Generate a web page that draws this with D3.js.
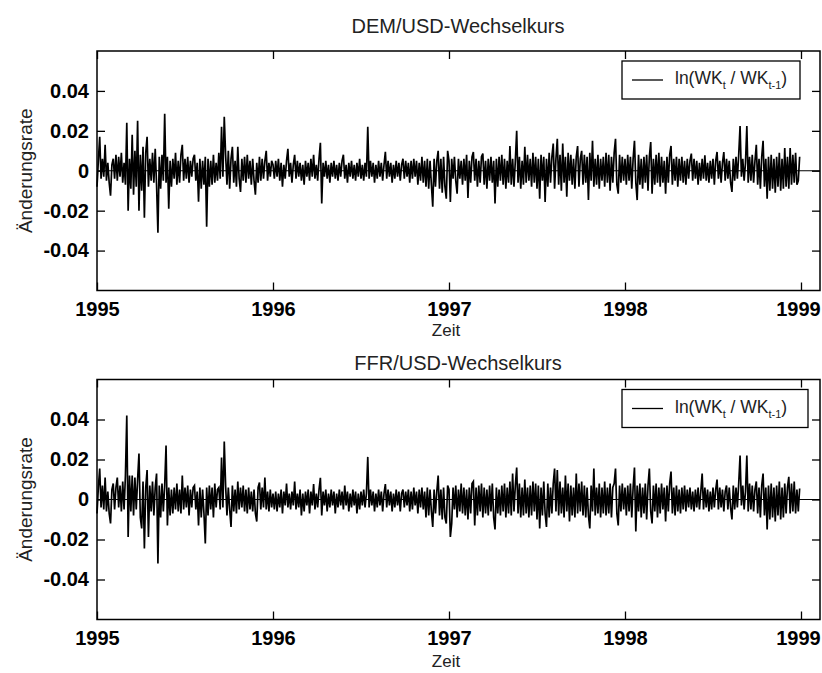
<!DOCTYPE html>
<html>
<head>
<meta charset="utf-8">
<script src="https://cdn.jsdelivr.net/npm/d3@7"></script>
<style>
  body { margin: 0; background: #fff; }
  svg { display: block; font-family: "Liberation Sans", Arial, sans-serif; }
</style>
</head>
<body>
<svg id="chart" width="822" height="673"></svg>
<script>
// daily changes ln(WK_t / WK_t-1), in units of 0.001
// (about 130 values per calendar year)
var dem1995 = [
  -8, 5, 17, -4, 6, -3, 13, -5, 4, -6,
  -12.5, 3, 6, -4, 8, -5, 7, -3, 9, -6,
  4, -7, 24, -20, 6, -9, 18, -12, 10, -8,
  25, -20, 8, -10, 12, -23.5, 9, 17, -8, 6,
  -5, 9, -6, 11, -7, -31, 7, -9, 8, -5,
  28.5, -6, 7, -19, 5, -8, 6, -4, 9, -7,
  5, -6, 8, 13, -5, 6, -4, 7, -6, 5,
  -3, 6, 8, -5, 4, -15.5, 6, -9, 5, -7,
  7, -28, 6, -8, 5, -7, 8, -6, 4, -5,
  9, -4, 22, -3, 27, 8, -7, 10, -9, 6,
  12, -6, 5, -8, 12, -4, -10.6, 6, -5, 7,
  -6, 8, -4, 5, -7, 6, -5, -12, 4, -6,
  7, -5, 6, -4, 5, 10, -5, 4, -3, 5
];
var dem1996 = [
  3, -4, 5, -3, 6, -5, 4, -8, 3, -4,
  5, 11, -3, 4, -6, 3, 8, -4, 5, -3,
  4, -5, 3, -7, 5, -3, 4, -5, 6, -3,
  8, -4, 3, -5, 6, 14, -16.4, 4, -3, 5,
  -4, 3, -6, 4, -3, 5, -4, 3, -5, 4,
  -3, 5, 8, -4, 3, -6, 4, -3, 5, -4,
  3, -5, 4, -3, 6, -4, 3, -5, 4, -3,
  22, -4, 5, -3, 4, -6, 3, -4, 5, -3,
  4, -5, 3, 9.5, -4, 5, -3, 4, -6, 3,
  -4, 5, -3, 4, -5, 3, 6, -4, 5, -3,
  4, -6, 5, -4, 6, -3, 5, -7, 4, -5,
  7, -6, 5, -8, 6, -9, 5, -7, -18, 6,
  -8, 5, 10, -9, 6, -11, 7, -8, -14, 10
];
var dem1997 = [
  5, -15.6, 6, -4, 7, -5, -11.5, 6, -4, 5,
  -7, 6, -5, 8, -13.6, 5, -6, 7, 9.4, -5,
  6, -8, 5, -6, 7, 8.6, -7, 5, -9, 6,
  -5, 7, -6, 5, -16.4, 6, -8, 7, -5, 8,
  -7, 6, -9, 5, -6, 12.4, -7, 6, -8, 5,
  20, -6, 7, -9, 5, -7, 12, -6, 8, -5,
  6, -8, 9, -6, 7, -9, 6, -14, 8, -5,
  7, -15.6, 6, -8, 9, -6, 7, 13.6, -9, 6,
  16, -7, 8, -10, 13.6, -6, 7, -13, 9, -5,
  8, -7, 6, -9, 7, 12.4, -8, 6, 10, -7,
  8, -6, 7, -14.7, 9, -5, 15, -8, 6, -7,
  8, -9, 6, -5, 7, -8, 9, -6, 8, -10,
  7, -6, 9, 16, -7, -11.5, 8, -6, 7, -5
];
var dem1998 = [
  6, -7, 8, -5, 7, -9, 6, 15, -6, -14.7,
  8, -7, 6, -9, 7, -6, 8, -10, 7, 14.4,
  -11.5, 6, -7, 8, -6, 9, -8, 7, -6, 5,
  -11.5, 7, -6, 8, 12.4, -7, 6, -5, 7, -8,
  6, -5, 7, -6, 5, -7, 6, -4, 5, 8.6,
  -5, 6, -4, 5, -7, 4, -5, 6, -4, 7.7,
  -5, 4, -6, 5, -4, 6, -7, 5, 9.4, -4,
  5, -6, 4, 9.4, -5, 6, -4, 5, -6, -10.6,
  6, -5, 7, -4, 8, 22.4, -3, 6, -5, 4,
  22.4, -6, 7, -5, 8, -6, 5, 13, -7, 6,
  -9, 7, 15, -8, 6, -14, 7, -10, 8, -9,
  6, -11, 7, -8, 9, -10, 6, -9, 11.4, -8,
  7, -9, 11.4, -7, 8, -6, 9, -7, -5, 7
];

var ffr1995 = [
  -7, 6, 15.5, -4, 7, -5, 11, -6, 4, -7,
  -12, 5, 8, -5, 6, 11, -4, 7, -6, 9,
  -5, 12, 42, -18.7, 12, -6, 12, -8, 11, -5,
  10, 23, -9, -14.5, 9, -24.5, 6, 14.7, -18.7, 7,
  -6, 9, -8, 6, 13, -32, 7, -9, 8, -6,
  7, 27, -13, 6, -8, 5, -7, 6, -5, 8,
  -6, 5, -7, 12, -5, 6, -4, 7, -8, 5,
  -4, 6, 7, -5, 4, -13, 6, -9, 5, -7,
  -22, 6, -8, 7, -5, 6, -9, 8, -4, 5,
  6, -5, 21, -4, 29, 7, -8, 6, -5, -13.7,
  7, -6, 5, -7, 9, -5, 6, -4, 7, -6,
  5, -7, 6, -5, 4, -6, 5, -7, -11, 6,
  8.5, -5, 6, -4, 11, -5, 4, -6, 5, -4
];
var ffr1996 = [
  3, -5, 4, -6, 3, -4, 5, -7, 4, -3,
  8, -4, 3, -5, 4, -3, 9, -5, 3, -4,
  5, -8, 3, -6, 4, -3, 5, -7, 4, -3,
  7.7, -5, 3, -4, 5, 10.8, -8, 4, -3, 5,
  -6, 3, -4, 5, -3, 4, -7, 3, -4, 5,
  -3, 4, -5, 7, -3, 4, -6, 3, -4, 5,
  -3, 4, -7, 3, -5, 4, -3, 5, -4, 3,
  21.3, -4, 5, -3, 4, -6, 3, -4, 5, -3,
  4, -6, 3, 7.7, -4, 5, -3, 4, -6, 3,
  -4, 5, -3, 4, -6, 3, 5, -4, 4, -3,
  5, -6, 4, -5, 6, -3, 4, -7, 5, -4,
  6, -5, 4, -9, 6, -8, 5, -6, -13.7, 5,
  -7, 4, 12, -8, 5, -10, 6, -9, -12, 7
];
var ffr1997 = [
  5, -18.7, -12, 6, -5, 7, -9, 5, -6, 8,
  -7, 6, -8, 5, -10, 6, -7, 8, 9, -13,
  6, -8, 7, -6, 8, -9, 6, -7, 5, -8,
  7, -6, 8, -9, -15, 6, -7, 5, -8, 7,
  -6, 8, -9, 6, -7, 9, -8, 13, -6, 7,
  16, -7, 8, -9, 6, -8, 10, -7, 6, -9,
  7, -8, 9, -6, 8, -10, 7, -14.5, 6, -8,
  9, -7, -13.7, 8, -9, 6, -7, 8, 15.5, -6,
  14.7, -8, 9, -7, 6, -9, 12, -6, 8, -11,
  7, -8, 6, -9, 13, -7, 8, -6, 9, -8,
  7, -9, 6, -8, -14.5, 7, -6, 15.5, -8, 6,
  -7, 8, -9, 6, -7, 9, -8, 6, -7, 8,
  -9, 6, 8, 15.5, -7, -13, 7, -6, 8, -5
];
var ffr1998 = [
  6, -8, 7, -6, 8, -9, 6, 16, -16, 7,
  -6, 8, -9, 6, -7, 8, -10, 7, 15.5, -6,
  -12, 7, -6, 8, -9, 6, -7, 8, -5, 6,
  -11, 7, -6, 8, 14, -7, 6, -8, 7, -6,
  5, -7, 6, -5, 7, -6, 5, -4, 6, -5,
  4, -6, 5, -4, 6, -5, 4, 13, -5, 6,
  -4, 5, -6, 4, -5, 6, -4, 5, 10, -5,
  6, -4, 5, -6, 4, 7, -5, 6, -4, -10,
  7, -5, 6, -4, 8, 22, -3, 7, -5, 4,
  22, -6, 8, -5, 7, -6, 5, 9, -7, 6,
  -9, 7, 13, -8, 6, -15, 7, -10, 8, -9,
  6, -11, 7, -8, 9, -10, 6, -9, 8, -7,
  6, 11.3, -7, 8, -6, 9, -7, 5, -6, 5.5
];

var years = [1995, 1996, 1997, 1998];
var yearTicks = [1995, 1996, 1997, 1998, 1999];
var rateTicks = [-0.04, -0.02, 0, 0.02, 0.04];
var panelTitles = ["DEM/USD-Wechselkurs", "FFR/USD-Wechselkurs"];

function toSeries(parts) {
  var out = [];
  parts.forEach(function(arr, k) {
    arr.forEach(function(v, i) {
      out.push({ t: years[k] + i / arr.length, v: v / 1000 });
    });
  });
  return out;
}

var panels = [
  { title: panelTitles[0], data: toSeries([dem1995, dem1996, dem1997, dem1998]),
    top: 51, bottom: 290.5, titleY: 33, zeitY: 336, legendRight: 800 },
  { title: panelTitles[1], data: toSeries([ffr1995, ffr1996, ffr1997, ffr1998]),
    top: 379.5, bottom: 619.5, titleY: 370, zeitY: 667, legendRight: 808 }
];

var svg = d3.select("#chart");
var left = 97, right = 820;

panels.forEach(function(p) {
  var x = d3.scaleLinear().domain([1995, 1999.108]).range([left, right]);
  var y = d3.scaleLinear().domain([-0.06, 0.06]).range([p.bottom, p.top]);
  var g = svg.append("g");

  var fmtRate = function(d) { return d === 0 ? "0" : String(d.toFixed(2)); };

  // zero line across the whole box
  g.append("line")
    .attr("x1", left).attr("x2", right)
    .attr("y1", y(0)).attr("y2", y(0))
    .attr("stroke", "#000").attr("stroke-width", 1);

  var line = d3.line()
    .x(function(d) { return x(d.t); })
    .y(function(d) { return y(d.v); });

  g.append("path")
    .datum(p.data)
    .attr("d", line)
    .attr("fill", "none")
    .attr("stroke", "#000")
    .attr("stroke-width", 1.7);

  var xb = g.append("g")
    .attr("transform", "translate(0," + p.bottom + ")")
    .call(d3.axisBottom(x).tickValues(yearTicks).tickFormat(d3.format("d"))
      .tickSize(-8).tickSizeOuter(0).tickPadding(11));
  var xt = g.append("g")
    .attr("transform", "translate(0," + p.top + ")")
    .call(d3.axisTop(x).tickValues(yearTicks).tickFormat("")
      .tickSize(-8).tickSizeOuter(0));
  var yl = g.append("g")
    .attr("transform", "translate(" + left + ",0)")
    .call(d3.axisLeft(y).tickValues(rateTicks).tickFormat(fmtRate)
      .tickSize(-8).tickSizeOuter(0).tickPadding(8));
  var yr = g.append("g")
    .attr("transform", "translate(" + right + ",0)")
    .call(d3.axisRight(y).tickValues(rateTicks).tickFormat("")
      .tickSize(-8).tickSizeOuter(0));

  [xb, xt, yl, yr].forEach(function(a) {
    a.select(".domain").remove();
    a.selectAll(".tick line").attr("stroke", "#000").attr("stroke-width", 1.3);
    a.selectAll(".tick text")
      .attr("fill", "#000")
      .style("font-size", "20px")
      .style("font-weight", "bold")
      .style("font-family", "'Liberation Sans', Arial, sans-serif");
  });
  // keep the last year label inside the window
  xb.selectAll(".tick text").filter(function(d) { return d === 1999; })
    .attr("dx", -3);

  // axes box
  g.append("rect")
    .attr("x", left).attr("y", p.top)
    .attr("width", right - left).attr("height", p.bottom - p.top)
    .attr("fill", "none").attr("stroke", "#000").attr("stroke-width", 1.5);

  // title
  g.append("text")
    .attr("x", 458).attr("y", p.titleY)
    .attr("text-anchor", "middle")
    .attr("fill", "#222")
    .style("font-size", "20px")
    .text(p.title);

  g.append("text")
    .attr("x", 446).attr("y", p.zeitY)
    .attr("text-anchor", "middle")
    .attr("fill", "#222")
    .style("font-size", "17px")
    .text("Zeit");

  g.append("text")
    .attr("transform", "translate(32," + y(0) + ") rotate(-90)")
    .attr("text-anchor", "middle")
    .attr("fill", "#222")
    .style("font-size", "19px")
    .text("Änderungsrate");

  // legend
  var ly = p.top + 10;
  g.append("rect")
    .attr("x", 622).attr("y", ly)
    .attr("width", p.legendRight - 622).attr("height", 38)
    .attr("fill", "#fff").attr("stroke", "#000").attr("stroke-width", 1.3);
  g.append("line")
    .attr("x1", 632).attr("x2", 663)
    .attr("y1", ly + 19).attr("y2", ly + 19)
    .attr("stroke", "#000").attr("stroke-width", 1.3);
  var lt = g.append("text")
    .attr("x", 675).attr("y", ly + 23)
    .attr("fill", "#222")
    .style("font-size", "17.5px");
  lt.append("tspan").text("ln(WK");
  lt.append("tspan").attr("dy", 5).style("font-size", "11px").text("t");
  lt.append("tspan").attr("dy", -5).text(" / WK");
  lt.append("tspan").attr("dy", 5).style("font-size", "11px").text("t-1");
  lt.append("tspan").attr("dy", -5).text(")");
});
</script>
</body>
</html>
